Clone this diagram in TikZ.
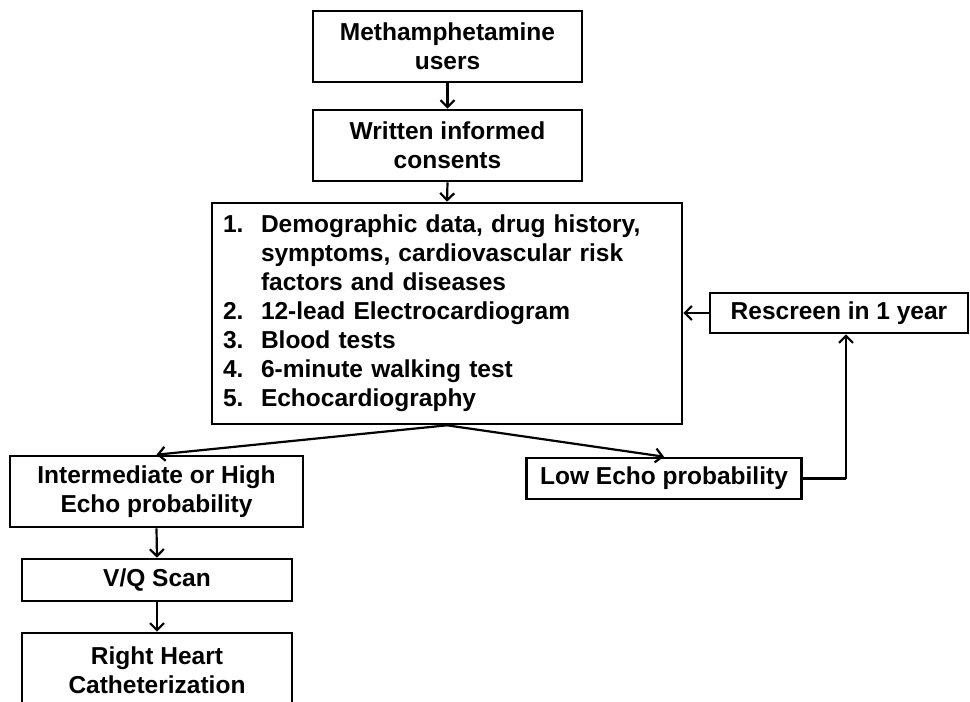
\documentclass[tikz,border=0pt]{standalone}
\usepackage{fontspec}
\setmainfont{Liberation Sans}
\usetikzlibrary{arrows.meta}
\begin{document}
\begin{tikzpicture}[x=1pt,y=-1pt,
  box/.style={draw, line width=2.6pt, inner sep=0pt, align=center,
    font=\bfseries\fontsize{24.5}{29}\selectfont},
  conn/.style={line width=2.2pt, -{Straight Barb[length=7pt,width=14pt,line width=2.2pt]}},
  plain/.style={line width=2.2pt}]
\fill[white] (0,0) rectangle (970,702);
\useasboundingbox (0,0) rectangle (970,702);

\node[box, minimum width=269pt, minimum height=71pt] (meth) at (447.5,46.5) {Methamphetamine\\users};
\node[box, minimum width=269pt, minimum height=71pt] (cons) at (447.5,145.5) {Written informed\\consents};
\node[box, minimum width=470pt, minimum height=221pt, text width=448pt, align=left] (screen) at (447,313.5) {%
\setlength\tabcolsep{0pt}%
\begin{tabular}{@{}p{38pt}@{}l@{}}
1. & Demographic data, drug history,\\
   & symptoms, cardiovascular risk\\
   & factors and diseases\\
2. & 12-lead Electrocardiogram\\
3. & Blood tests\\
4. & 6-minute walking test\\
5. & Echocardiography
\end{tabular}};
\node[box, minimum width=258pt, minimum height=40pt] (resc) at (839,313) {Rescreen in 1 year};
\node[box, minimum width=275pt, minimum height=41pt] (low) at (664,478.5) {Low Echo probability};
\node[box, minimum width=293pt, minimum height=71pt] (inter) at (156.5,491.5) {Intermediate or High\\Echo probability};
\node[box, minimum width=270pt, minimum height=42pt] (vq) at (157,580) {V/Q Scan};
\node[box, minimum width=270pt, minimum height=74pt] (rhc) at (157,670) {Right Heart\\Catheterization};

\coordinate (turn) at (846,478.5);

\draw[conn] (meth.south) -- (cons.north);
\draw[conn] (cons.south) -- (screen.north);
\draw[conn] (resc.west) -- (resc.west -| screen.east);
\draw[conn] (screen.south) -- (inter.north);
\draw[conn] (screen.south) -- (low.north);
\draw[plain] (low.east) -- (turn);
\draw[conn] (turn) -- (turn |- resc.south);
\draw[conn] (inter.south) -- (vq.north);
\draw[conn] (vq.south) -- (rhc.north);
\end{tikzpicture}
\end{document}
